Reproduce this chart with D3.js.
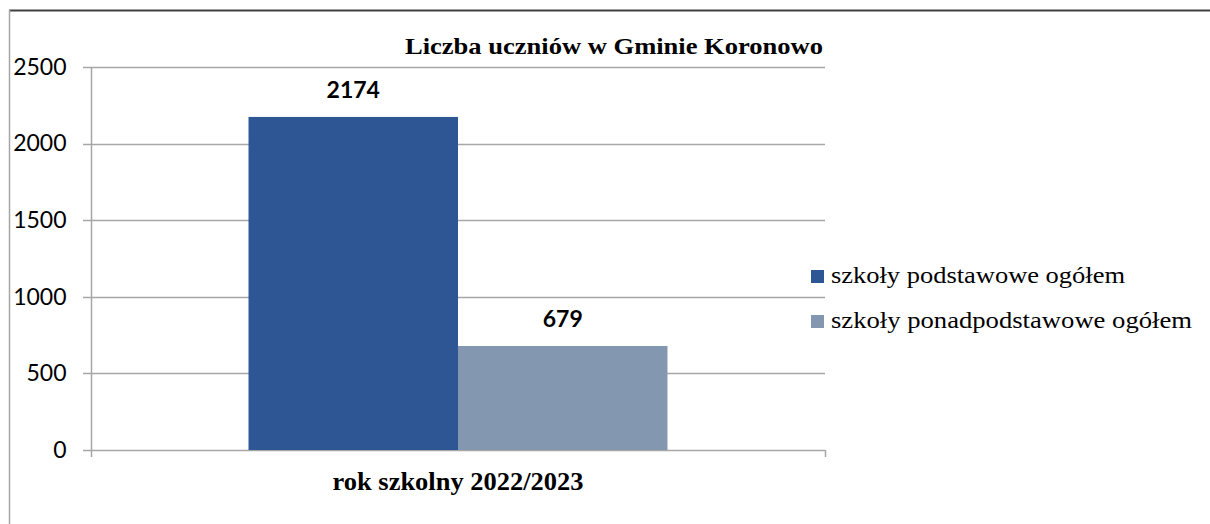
<!DOCTYPE html>
<html>
<head>
<meta charset="utf-8">
<script src="https://cdn.jsdelivr.net/npm/d3@7"></script>
<style>
  body { margin: 0; background: #fff; }
  svg { display: block; }
</style>
</head>
<body>
<svg id="chart"></svg>
<script>
var width = 1210
var height = 524

// data
var categories = ['rok szkolny 2022/2023']
var seriesNames = ['szkoły podstawowe ogółem', 'szkoły ponadpodstawowe ogółem']
var seriesValues = [2174, 679]
var seriesColors = ['#2E5594', '#8497B0']
var yTicks = [0, 500, 1000, 1500, 2000, 2500]
var title = 'Liczba uczniów w Gminie Koronowo'

var plot = { left: 91, right: 825, top: 67, bottom: 450 }

var svg = d3.select('#chart')
  .attr('width', width)
  .attr('height', height)

// frame round the chart (top dark, left light)
svg.append('line')
  .attr('x1', 9).attr('x2', width)
  .attr('y1', 10.5).attr('y2', 10.5)
  .attr('stroke', '#404040').attr('stroke-width', 2)
svg.append('line')
  .attr('x1', 9.5).attr('x2', 9.5)
  .attr('y1', 10).attr('y2', height)
  .attr('stroke', '#a6a6a6').attr('stroke-width', 1.5)

var y = d3.scaleLinear()
  .domain([0, 2500])
  .range([plot.bottom, plot.top])

var x0 = d3.scaleBand()
  .domain(categories)
  .range([plot.left, plot.right])
  .paddingInner(0)
  .paddingOuter(0.376)

var x1 = d3.scaleBand()
  .domain(seriesNames)
  .range([0, x0.bandwidth()])

// gridlines
svg.append('g')
  .selectAll('line')
  .data(yTicks)
  .enter().append('line')
  .attr('x1', plot.left - 8)
  .attr('x2', plot.right)
  .attr('y1', function (d) { return Math.round(y(d)) + 0.5 })
  .attr('y2', function (d) { return Math.round(y(d)) + 0.5 })
  .attr('stroke', '#a6a6a6')
  .attr('stroke-width', 1.5)

// y axis
var yAxis = svg.append('g')
  .attr('transform', 'translate(' + (plot.left + 0.5) + ',0)')
  .call(d3.axisLeft(y).tickValues(yTicks).tickFormat(d3.format('d')).tickSize(0).tickPadding(25).tickSizeOuter(0))
yAxis.select('.domain')
  .attr('stroke', '#a6a6a6')
  .attr('stroke-width', 1.5)
  .attr('d', 'M0,' + plot.top + 'V' + (plot.bottom + 7))
yAxis.selectAll('text')
  .attr('font-family', 'Lato, sans-serif')
  .attr('font-size', '23px')
  .attr('fill', '#000')

// right end tick of category axis
svg.append('line')
  .attr('x1', plot.right + 0.5).attr('x2', plot.right + 0.5)
  .attr('y1', plot.bottom).attr('y2', plot.bottom + 7)
  .attr('stroke', '#a6a6a6').attr('stroke-width', 1.5)

// bars
var bars = svg.append('g')
  .selectAll('g')
  .data(categories)
  .enter().append('g')
  .attr('transform', function (d) { return 'translate(' + x0(d) + ',0)' })

bars.selectAll('rect')
  .data(seriesValues.map(function (v, i) { return { name: seriesNames[i], value: v, color: seriesColors[i] } }))
  .enter().append('rect')
  .attr('x', function (d) { return x1(d.name) })
  .attr('width', x1.bandwidth())
  .attr('y', function (d) { return y(d.value) })
  .attr('height', function (d) { return y(0) - y(d.value) })
  .attr('fill', function (d) { return d.color })

bars.selectAll('text.val')
  .data(seriesValues.map(function (v, i) { return { name: seriesNames[i], value: v } }))
  .enter().append('text')
  .attr('class', 'val')
  .attr('x', function (d) { return x1(d.name) + x1.bandwidth() / 2 })
  .attr('y', function (d) { return y(d.value) - 19 })
  .attr('text-anchor', 'middle')
  .attr('font-family', 'Lato, sans-serif')
  .attr('font-weight', 'bold')
  .attr('font-size', '23px')
  .text(function (d) { return d.value })

// category label (the original text is a bit stretched sideways)
svg.append('g')
  .selectAll('text')
  .data(categories)
  .enter().append('text')
  .attr('x', function (d) { return x0(d) + x0.bandwidth() / 2 })
  .attr('y', 490)
  .attr('text-anchor', 'middle')
  .attr('font-family', '"Liberation Serif", serif')
  .attr('font-weight', 'bold')
  .attr('font-size', '25px')
  .attr('textLength', 251)
  .attr('lengthAdjust', 'spacingAndGlyphs')
  .text(function (d) { return d })

// title
svg.append('text')
  .attr('x', 823)
  .attr('y', 54)
  .attr('text-anchor', 'end')
  .attr('font-family', '"Liberation Serif", serif')
  .attr('font-weight', 'bold')
  .attr('font-size', '24px')
  .attr('textLength', 418)
  .attr('lengthAdjust', 'spacingAndGlyphs')
  .text(title)

// legend
var legendWidths = [294, 361]
var legend = svg.append('g')
  .selectAll('g')
  .data(seriesNames)
  .enter().append('g')
  .attr('transform', function (d, i) { return 'translate(811,' + (270 + i * 45) + ')' })

legend.append('rect')
  .attr('width', 13)
  .attr('height', 13)
  .attr('fill', function (d, i) { return seriesColors[i] })

legend.append('text')
  .attr('x', 20)
  .attr('y', 13)
  .attr('font-family', '"Liberation Serif", serif')
  .attr('font-size', '24px')
  .attr('textLength', function (d, i) { return legendWidths[i] })
  .attr('lengthAdjust', 'spacingAndGlyphs')
  .text(function (d) { return d })
</script>
</body>
</html>
